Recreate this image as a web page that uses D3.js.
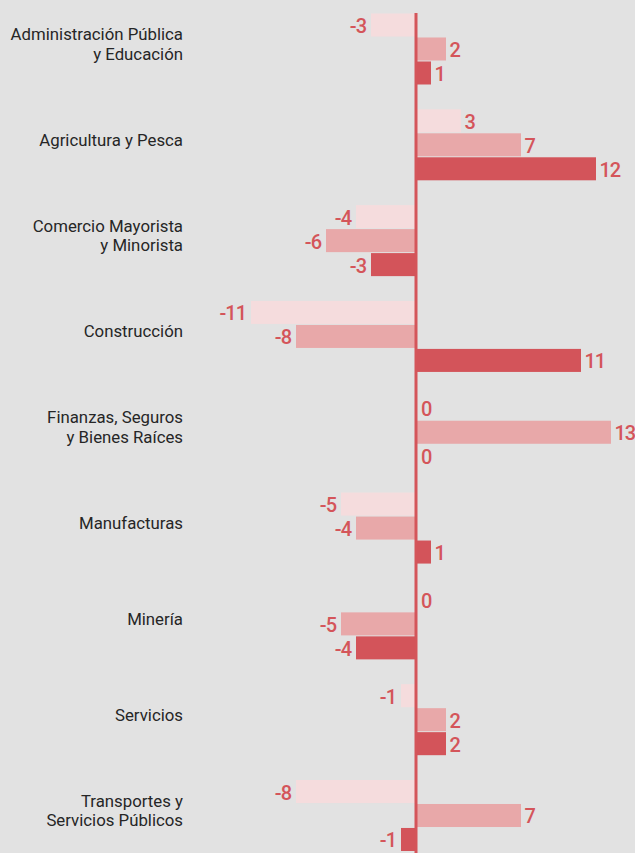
<!DOCTYPE html>
<html>
<head>
<meta charset="utf-8">
<script src="https://cdn.jsdelivr.net/npm/d3@7"></script>
<style>
  html, body { margin: 0; padding: 0; background: #e2e2e2; }
  svg { display: block; }
  .cat-label { font-family: Roboto, "Noto Sans", sans-serif; font-size: 16.8px; fill: #262626; }
  .val-label { font-family: Roboto, sans-serif; font-size: 20px; font-weight: 500; letter-spacing: -1px; fill: #d4555a; }
</style>
</head>
<body>
<div id="chart"></div>
<script>
// sector names (\n = line break in the label)
const sectors = [
  "Administración Pública\ny Educación",
  "Agricultura y Pesca",
  "Comercio Mayorista\ny Minorista",
  "Construcción",
  "Finanzas, Seguros\ny Bienes Raíces",
  "Manufacturas",
  "Minería",
  "Servicios",
  "Transportes y\nServicios Públicos"
];

// three series per sector, light -> dark
const series = ["serie1", "serie2", "serie3"];
const serie1 = [-3, 3, -4, -11, 0, -5, 0, -1, -8];
const serie2 = [2, 7, -6, -8, 13, -4, -5, 2, 7];
const serie3 = [1, 12, -3, 11, 0, 1, -4, 2, -1];

const colors = ["#f5dcdd", "#e8a8a9", "#d3545a"];

const width = 635;
const height = 853;

const svg = d3
  .select("#chart")
  .append("svg")
  .attr("width", width)
  .attr("height", height);

// rows
const data = sectors.map((s, i) => ({
  sector: s,
  values: [serie1[i], serie2[i], serie3[i]]
}));

const x = d3.scaleLinear().domain([-11, 13]).range([251, 611]);

const y0 = d3
  .scaleBand()
  .domain(sectors)
  .range([13.5, 851])
  .paddingInner(0.259)
  .paddingOuter(0);

const y1 = d3
  .scaleBand()
  .domain(series)
  .range([0, y0.bandwidth()])
  .paddingInner(0.04);

const color = d3.scaleOrdinal().domain(series).range(colors);

const groups = svg
  .selectAll(".group")
  .data(data)
  .enter()
  .append("g")
  .attr("class", "group")
  .attr("transform", (d) => `translate(0,${y0(d.sector)})`);

const items = groups
  .selectAll(".item")
  .data((d) => d.values.map((v, i) => ({ key: series[i], value: v })))
  .enter();

items
  .append("rect")
  .attr("x", (d) => x(Math.min(0, d.value)))
  .attr("y", (d) => y1(d.key))
  .attr("width", (d) => Math.abs(x(d.value) - x(0)))
  .attr("height", y1.bandwidth())
  .attr("fill", (d) => color(d.key));

items
  .append("text")
  .attr("class", "val-label")
  .attr("x", (d) => {
    if (d.value < 0) return x(d.value) - 5;
    if (d.value === 0) return x(0) + 5;
    return x(d.value) + 3.5;
  })
  .attr("y", (d) => y1(d.key) + y1.bandwidth() / 2 + 8)
  .attr("text-anchor", (d) => (d.value < 0 ? "end" : "start"))
  .text((d) => d.value);

// sector labels
const lineHeight = 19.5;
groups.each(function (d) {
  const lines = d.sector.split("\n");
  const mid = y0.bandwidth() / 2 + 1;
  const t = d3
    .select(this)
    .append("text")
    .attr("class", "cat-label")
    .attr("text-anchor", "end");
  lines.forEach((l, i) => {
    t.append("tspan")
      .attr("x", 183)
      .attr("y", mid + (i - (lines.length - 1) / 2) * lineHeight)
      .text(l);
  });
});

// zero line
svg
  .append("line")
  .attr("x1", x(0))
  .attr("x2", x(0))
  .attr("y1", 13)
  .attr("y2", height)
  .attr("stroke", "#d4555a")
  .attr("stroke-width", 3);
</script>
</body>
</html>
